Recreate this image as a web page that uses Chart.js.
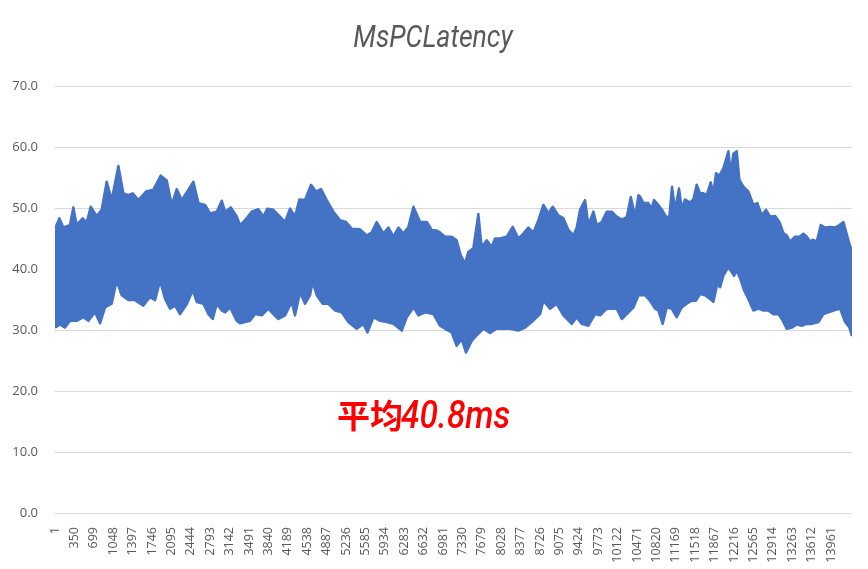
<!DOCTYPE html>
<html>
<head>
<meta charset="utf-8">
<script src="https://cdn.jsdelivr.net/npm/chart.js@4.4.1/dist/chart.umd.min.js"></script>
<style>
html,body{margin:0;padding:0;background:#fff;}
#wrap{position:relative;width:868px;height:569px;}
</style>
</head>
<body>
<div id="wrap"><canvas id="c"></canvas></div>
<script>
// Sample index (x) and latency (ms) along the upper edge of the band
const upperIdx = [1,79,151,271,331,391,499,571,643,751,841,931,1021,1141,1231,1321,1399,1501,1639,1771,1903,2011,2101,2191,2281,2401,2491,2581,2701,2791,2911,3001,3061,3163,3271,
3329,3419,3539,3659,3749,3821,3929,4049,4139,4229,4319,4397,4499,4607,4697,4787,4889,5009,5129,5237,5339,5489,5609,5699,5789,5909,5999,6089,6179,6269,6359,6449,6569,6689,6779,6869,
6927,7017,7137,7227,7299,7377,7437,7527,7617,7677,7767,7857,7917,8007,8127,8235,8337,8427,8517,8607,8697,8787,8877,8955,9057,9147,9237,9327,9387,9447,9537,9597,9687,9747,9837,9927,10017,10107,10197,10287,10359,10437,10497,
10525,10585,10675,10735,10777,10855,10915,10993,11053,11101,11155,11227,11275,11335,11425,11485,11545,11605,11665,11725,11797,11845,11893,11953,12025,12115,12157,12205,12265,12313,12385,12475,12565,12637,12715,12793,12865,12955,13033,13105,13165,13225,13315,13393,13465,13525,13585,13633,13705,13777,13855,13945,14035,14113,14185,14275,14339];
const upperMs = [46.6,48.3,46.8,47.2,50.1,47.2,48.3,47.6,50.2,48.7,49.7,54.3,51.3,56.9,52.4,52.1,52.4,51.3,52.7,53.0,55.3,54.5,50.5,53.1,51.3,53.0,54.3,50.8,50.5,49.1,49.4,51.2,49.4,50.1,48.6,
47.2,48.0,49.4,49.8,48.6,49.9,49.7,48.6,47.7,49.9,48.6,51.4,51.3,53.8,52.7,53.1,51.3,49.4,48.0,47.7,46.6,46.5,45.5,46.0,47.7,45.8,46.8,45.3,46.8,45.8,46.9,50.2,47.7,47.7,46.4,46.3,
46.0,45.3,45.3,44.7,42.3,40.9,42.8,43.4,49.0,43.6,44.7,43.6,45.0,45.0,45.3,46.9,45.0,45.8,46.8,46.0,48.0,50.5,49.1,50.2,48.8,48.3,46.4,45.5,46.8,49.7,51.3,47.2,49.4,47.2,47.7,49.4,49.4,48.6,48.1,48.5,51.8,48.6,52.1,
51.9,50.8,50.8,49.9,51.3,50.5,49.8,48.6,48.5,53.5,49.7,53.2,49.9,51.4,50.9,51.4,53.8,52.4,52.4,52.1,54.2,52.4,55.7,55.3,56.5,59.3,55.7,58.9,59.3,54.6,53.5,52.7,50.5,50.8,48.8,49.7,48.6,48.7,47.7,45.9,45.5,44.5,45.3,45.3,45.8,45.3,44.5,44.8,44.5,47.2,46.8,46.9,46.8,47.2,47.7,44.7,42.8];

// Sample index (x) and latency (ms) along the lower edge of the band
const lowerIdx = [1,91,181,271,391,511,601,721,811,901,1021,1111,1201,1321,1441,1591,1711,1801,1891,1981,2071,2161,2251,2371,2479,2551,2671,2761,2839,2911,3001,3061,3151,3271,
3329,3509,3599,3719,3839,3929,4019,4139,4259,4319,4409,4499,4589,4637,4709,4817,4919,5039,5159,5279,5429,5549,5621,5729,5849,5969,6089,6239,6329,6449,6539,6659,6809,
6927,7017,7137,7227,7317,7395,7497,7587,7707,7827,7947,8067,8187,8337,8457,8577,8727,8787,8907,9027,9147,9297,9387,9477,9597,9717,9807,9927,10107,10197,10287,10407,10497,
10525,10615,10705,10795,10855,10933,11005,11095,11185,11275,11365,11455,11533,11605,11695,11785,11845,11917,11965,12025,12115,12217,12265,12325,12397,12475,12565,12655,12745,12835,12925,13015,13075,13165,13255,13345,13435,13525,13615,13735,13825,13915,14005,14125,14215,14293,14339];
const lowerMs = [30.4,30.9,30.4,31.5,31.5,32.1,31.5,32.9,31.1,33.7,34.3,38.1,35.7,34.9,34.9,34.0,35.4,34.9,38.1,35.1,33.5,34.0,32.6,34.2,36.5,34.6,34.3,32.6,31.8,34.3,33.2,32.9,33.7,31.5,
31.1,31.5,32.6,32.4,33.5,32.6,31.8,32.4,34.6,32.4,36.2,34.3,35.7,37.9,35.7,34.3,34.3,33.2,32.9,31.3,30.2,31.0,29.6,32.1,31.5,31.3,31.0,29.9,32.1,33.7,32.4,32.9,32.6,
30.7,30.2,29.6,27.4,28.5,26.3,28.2,29.1,30.2,29.5,30.2,30.2,30.2,29.9,30.4,31.3,32.6,34.8,33.5,34.3,32.4,31.0,32.1,31.0,30.7,32.6,32.4,33.5,33.5,31.8,32.6,33.7,35.7,
35.7,35.7,34.8,33.5,33.2,31.0,33.7,33.5,32.1,33.7,34.3,34.8,34.8,35.9,35.7,35.1,34.6,37.6,37.0,38.9,40.3,38.9,39.8,38.5,36.5,35.1,33.2,33.5,33.2,33.2,32.6,32.6,31.8,30.2,30.4,30.9,30.7,31.0,31.0,31.3,32.6,32.9,33.2,33.5,31.3,30.4,29.0];

const xTickLabels = [1,350,699,1048,1397,1746,2095,2444,2793,3142,3491,3840,4189,4538,4887,5236,5585,5934,6283,6632,6981,7330,7679,8028,8377,8726,9075,9424,9773,10122,10471,10820,11169,11518,11867,12216,12565,12914,13263,13612,13961];
const yTicks = [0,10,20,30,40,50,60,70];
const lastSample = 14339;

const chartTitle = 'MsPCLatency';
const noteCjk = '平均';
const noteNum = '40.8ms';

const BLUE = '#4472C4';
const GRAY = '#595959';
const GRID = '#d9d9d9';

// Draws the condensed italic title and the red average note
const textPlugin = {
  id: 'texts',
  afterDraw(chart) {
    const ctx = chart.ctx;
    ctx.save();
    ctx.fillStyle = GRAY;
    ctx.textAlign = 'center';
    ctx.textBaseline = 'alphabetic';
    ctx.font = 'italic 31px Roboto, sans-serif';
    ctx.translate(433, 47);
    ctx.scale(0.86, 1);
    ctx.fillText(chartTitle, 0, 0);
    ctx.restore();

    ctx.save();
    ctx.fillStyle = '#FF0000';
    ctx.textBaseline = 'alphabetic';
    ctx.textAlign = 'left';
    ctx.font = 'bold 33px "Noto Sans CJK SC"';
    const x0 = 337, base = 428;
    ctx.fillText(noteCjk, x0, base);
    const w = ctx.measureText(noteCjk).width;
    ctx.translate(x0 + w - 2, base);
    ctx.scale(0.88, 1);
    ctx.font = 'italic 500 38px Roboto, sans-serif';
    ctx.fillText(noteNum, 0, 0);
    ctx.restore();
  }
};

new Chart(document.getElementById('c'), {
  type: 'line',
  data: {
    datasets: [
      {
        label: chartTitle,
        data: upperIdx.map((x, i) => ({x: x, y: upperMs[i]})),
        borderColor: BLUE,
        backgroundColor: BLUE,
        borderWidth: 2.5,
        borderJoinStyle: 'round',
        pointRadius: 0,
        tension: 0,
        fill: false
      },
      {
        label: chartTitle + ' (low)',
        data: lowerIdx.map((x, i) => ({x: x, y: lowerMs[i]})),
        borderColor: BLUE,
        backgroundColor: BLUE,
        borderWidth: 2.5,
        borderJoinStyle: 'round',
        pointRadius: 0,
        tension: 0,
        fill: '-1'
      }
    ]
  },
  options: {
    responsive: true,
    maintainAspectRatio: false,
    animation: false,
    events: [],
    layout: {padding: {top: 86, right: 16, left: 0, bottom: 0}},
    plugins: {
      legend: {display: false},
      tooltip: {enabled: false},
      title: {display: false, text: chartTitle}
    },
    scales: {
      x: {
        type: 'linear',
        min: 1,
        max: lastSample,
        grid: {display: false},
        border: {display: false},
        afterBuildTicks(scale) {
          scale.ticks = xTickLabels.map(v => ({value: v}));
        },
        afterFit(scale) { scale.height = 56; },
        ticks: {
          autoSkip: false,
          minRotation: 90,
          maxRotation: 90,
          padding: 6,
          color: GRAY,
          font: {family: '"Open Sans", sans-serif', size: 12.5},
          callback: v => String(v)
        }
      },
      y: {
        min: 0,
        max: 70,
        afterBuildTicks(scale) {
          scale.ticks = yTicks.map(v => ({value: v}));
        },
        afterFit(scale) { scale.width = 55; },
        grid: {color: GRID, lineWidth: 1, drawTicks: false},
        border: {display: false},
        ticks: {
          padding: 17,
          color: GRAY,
          font: {family: '"Open Sans", sans-serif', size: 13},
          callback: v => Number(v).toFixed(1)
        }
      }
    }
  },
  plugins: [textPlugin]
});
</script>
</body>
</html>
